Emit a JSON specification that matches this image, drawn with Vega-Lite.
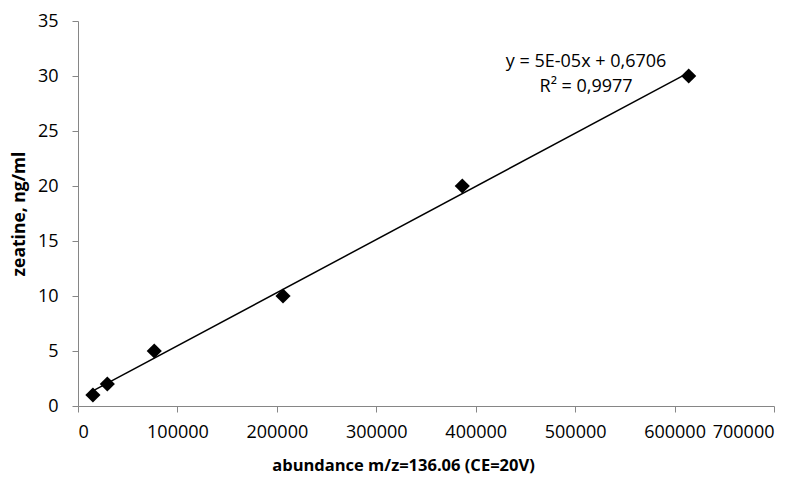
{
  "$schema": "https://vega.github.io/schema/vega-lite/v6.json",
  "autosize": "none",
  "width": 696,
  "height": 385,
  "padding": {"left": 78, "top": 21, "right": 33, "bottom": 72},
  "background": "white",
  "config": {
    "view": {"stroke": null},
    "font": "Open Sans",
    "axis": {
      "grid": false,
      "domainColor": "#868686",
      "tickColor": "#868686",
      "tickSize": 6,
      "labelFont": "Open Sans",
      "labelFontSize": 18,
      "labelColor": "#000000",
      "titleFont": "Open Sans",
      "titleFontSize": 16,
      "titleFontWeight": "bold",
      "titleColor": "#000000"
    }
  },
  "data": {
    "values": [
      {"abundance": 15000, "zeatine": 1},
      {"abundance": 29500, "zeatine": 2},
      {"abundance": 76700, "zeatine": 5},
      {"abundance": 206200, "zeatine": 10},
      {"abundance": 386500, "zeatine": 20},
      {"abundance": 614200, "zeatine": 30}
    ]
  },
  "layer": [
    {
      "transform": [{"regression": "zeatine", "on": "abundance"}],
      "mark": {"type": "line", "color": "black", "strokeWidth": 1.5},
      "encoding": {
        "x": {"field": "abundance", "type": "quantitative"},
        "y": {"field": "zeatine", "type": "quantitative"}
      }
    },
    {
      "mark": {"type": "point", "shape": "diamond", "filled": true, "color": "black", "size": 230, "opacity": 1},
      "encoding": {
        "x": {
          "field": "abundance", "type": "quantitative",
          "scale": {"domain": [0, 700000], "nice": false, "zero": true},
          "axis": {"values": [0, 100000, 200000, 300000, 400000, 500000, 600000, 700000], "format": "d", "labelPadding": 11, "title": "abundance m/z=136.06 (CE=20V)", "titleFontSize": 16.5, "titleX": 325, "titleY": 59, "titleAlign": "center", "titleBaseline": "middle", "titleAnchor": null}
        },
        "y": {
          "field": "zeatine", "type": "quantitative",
          "scale": {"domain": [0, 35], "nice": false},
          "axis": {"values": [0, 5, 10, 15, 20, 25, 30, 35], "labelPadding": 14, "title": "zeatine, ng/ml", "titleFontSize": 17.5, "titlePadding": 9}
        }
      }
    },
    {
      "data": {"values": [
        {"abundance": 511000, "zeatine": 31.3, "label": "y = 5E-05x + 0,6706"},
        {"abundance": 511000, "zeatine": 29.0, "label": "R² = 0,9977"}
      ]},
      "mark": {"type": "text", "align": "center", "baseline": "middle", "fontSize": 18, "font": "Open Sans", "color": "black"},
      "encoding": {
        "x": {"field": "abundance", "type": "quantitative"},
        "y": {"field": "zeatine", "type": "quantitative"},
        "text": {"field": "label"}
      }
    }
  ]
}
